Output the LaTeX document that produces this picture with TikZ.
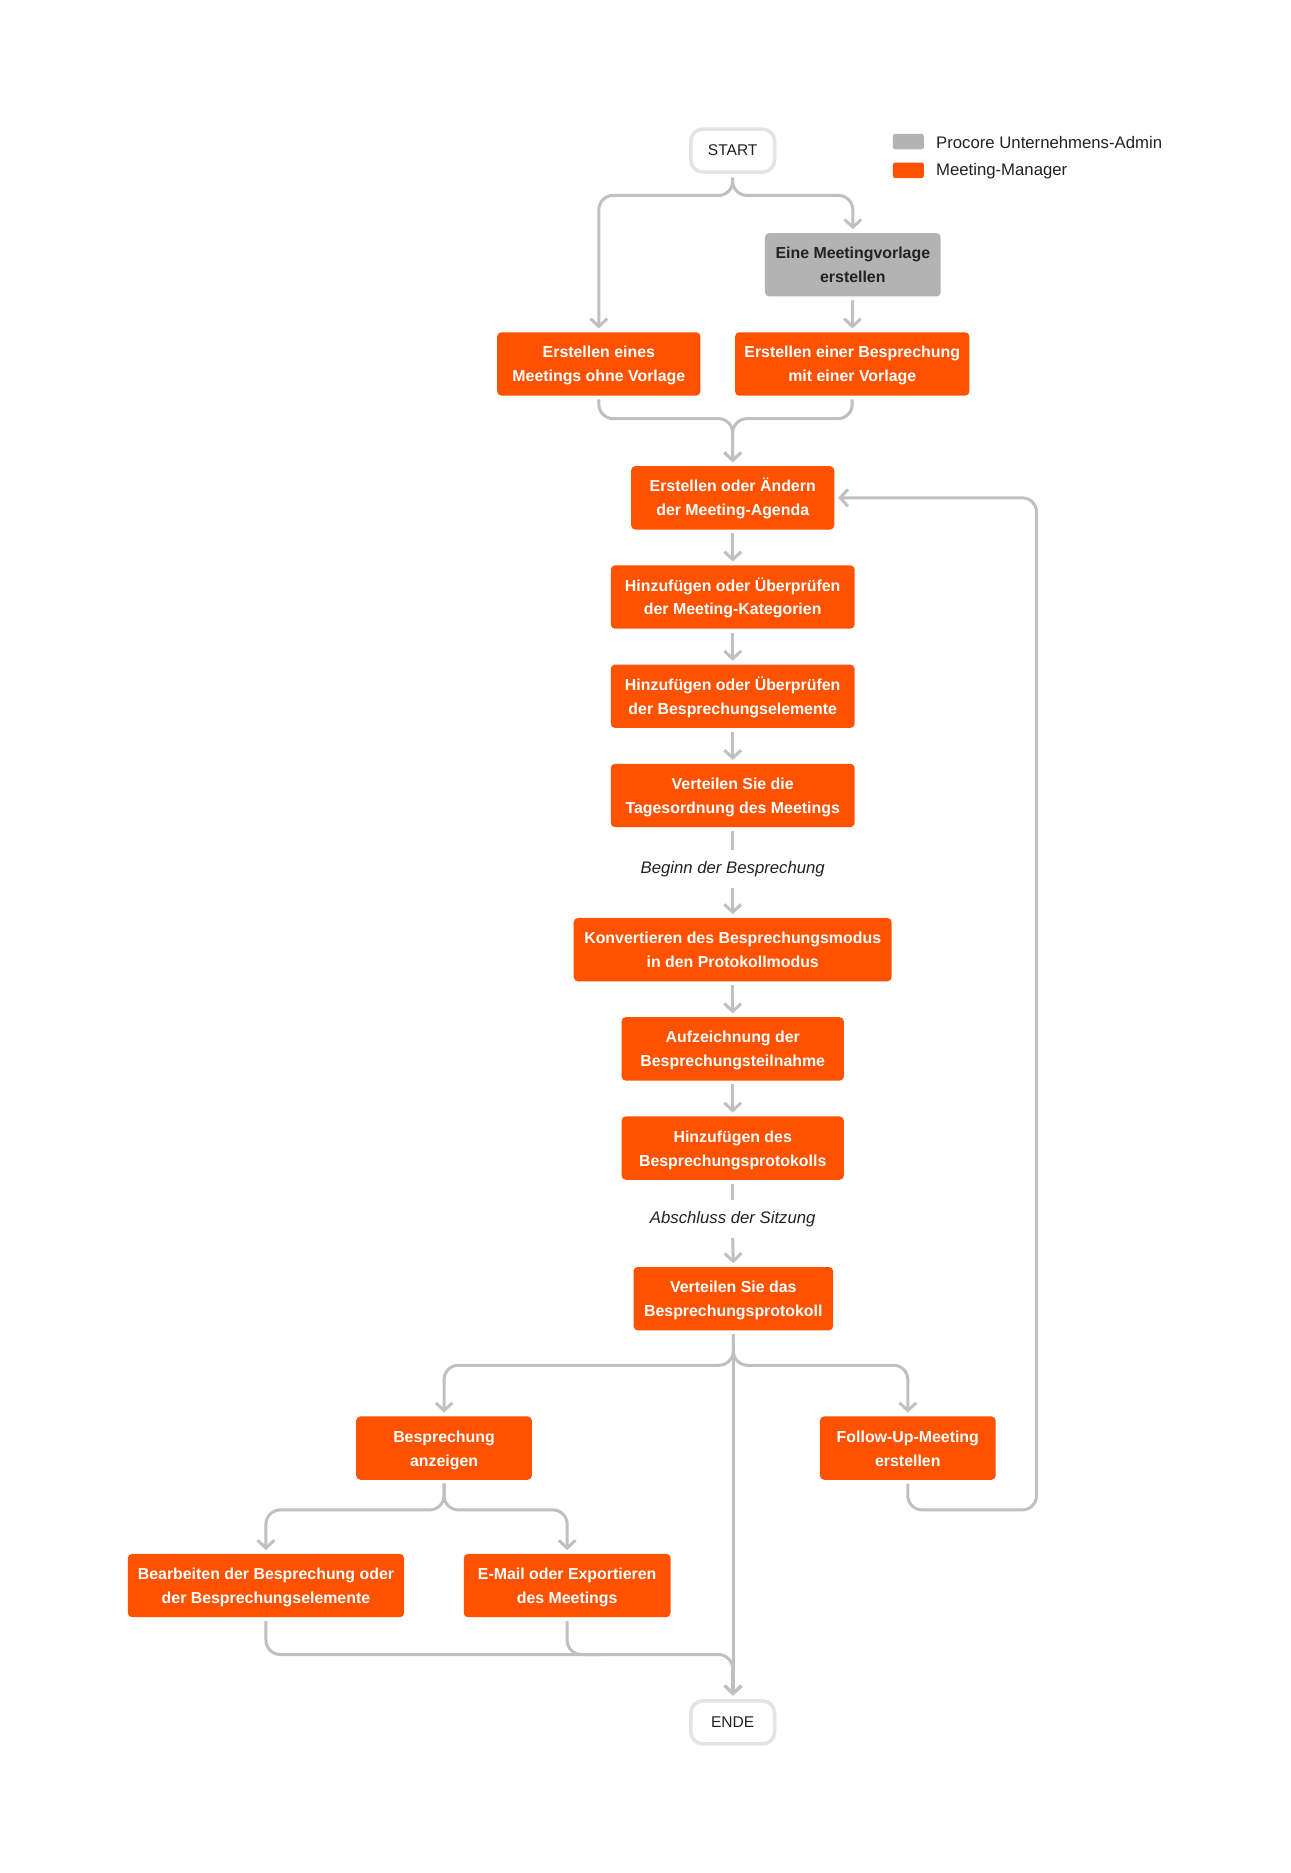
\documentclass[tikz,border=0pt]{standalone}
\usepackage{fontspec}
\setmainfont{Liberation Sans}
\usetikzlibrary{arrows.meta,calc}
\definecolor{pcorange}{HTML}{FF5200}
\definecolor{pcgray}{HTML}{B3B3B3}
\definecolor{pcline}{HTML}{C0C0C0}
\definecolor{pcborder}{HTML}{E4E4E4}
\definecolor{pctext}{HTML}{222222}
\begin{document}
\begin{tikzpicture}[x=1pt,y=-1pt,
  box/.style={fill=pcorange, rounded corners=3.5pt, text=white,
    font=\fontsize{13.3}{20}\selectfont\bfseries, align=center,
    minimum height=53pt, inner sep=0pt, text height=34pt, text depth=4pt},
  graybox/.style={box, fill=pcgray, text=pctext},
  term/.style={draw=pcborder, line width=3pt, fill=white, rounded corners=10pt,
    minimum width=70pt, minimum height=36pt, inner sep=0pt,
    font=\fontsize{13}{15}\selectfont, text=pctext},
  lbl/.style={font=\fontsize{14}{16}\selectfont\itshape, text=pctext, inner xsep=2pt, inner ysep=9pt},
  legsq/.style={rounded corners=2pt, minimum width=26pt, minimum height=13pt, inner sep=0pt},
  legtext/.style={font=\fontsize{14}{16}\selectfont, text=pctext, inner sep=0pt, anchor=west},
  wire/.style={draw=pcline, line width=2.5pt, rounded corners=12pt, shorten <=3pt},
  conn/.style={wire, -{Straight Barb[length=6.5pt,width=14pt]}, shorten >=3pt},
]
\path[fill=white] (0,0) rectangle (1080,1567);

% legend
\node[legsq, fill=pcgray] (lg1) at (760,118.5) {};
\node[legtext] (lt1) at (783,119) {Procore Unternehmens-Admin};
\node[legsq, fill=pcorange] (lg2) at (760,142.5) {};
\node[legtext] (lt2) at (783,143) {Meeting-Manager};

% nodes
\node[term] (start) at (613,126) {START};
\node[graybox, minimum width=147pt] (tmpl) at (713.5,221.5) {Eine Meetingvorlage\\erstellen};
\node[box, minimum width=170pt] (nolay) at (501,304.5) {Erstellen eines\\Meetings ohne Vorlage};
\node[box, minimum width=196pt] (withlay) at (713,304.5) {Erstellen einer Besprechung\\mit einer Vorlage};
\node[box, minimum width=170pt] (agenda) at (613,416.5) {Erstellen oder Ändern\\der Meeting-Agenda};
\node[box, minimum width=204pt] (cat) at (613,499.5) {Hinzufügen oder Überprüfen\\der Meeting-Kategorien};
\node[box, minimum width=204pt] (items) at (613,582.5) {Hinzufügen oder Überprüfen\\der Besprechungselemente};
\node[box, minimum width=204pt] (distag) at (613,665.5) {Verteilen Sie die\\Tagesordnung des Meetings};
\node[lbl] (beginn) at (613,727) {Beginn der Besprechung};
\node[box, minimum width=266pt] (conv) at (613,794.5) {Konvertieren des Besprechungsmodus\\in den Protokollmodus};
\node[box, minimum width=186pt] (attend) at (613,877.5) {Aufzeichnung der\\Besprechungsteilnahme};
\node[box, minimum width=186pt] (minutes) at (613,960.5) {Hinzufügen des\\Besprechungsprotokolls};
\node[lbl] (abschl) at (613,1020) {Abschluss der Sitzung};
\node[box, minimum width=167pt] (distprot) at (613.5,1086.5) {Verteilen Sie das\\Besprechungsprotokoll};
\node[box, minimum width=147pt] (view) at (371.5,1211.5) {Besprechung\\anzeigen};
\node[box, minimum width=147pt] (follow) at (759.5,1211.5) {Follow-Up-Meeting\\erstellen};
\node[box, minimum width=231pt] (edit) at (222.5,1326.5) {Bearbeiten der Besprechung oder\\der Besprechungselemente};
\node[box, minimum width=173pt] (email) at (474.5,1326.5) {E-Mail oder Exportieren\\des Meetings};
\node[term] (ende) at (613,1441) {ENDE};

% connectors
\draw[conn] (start.south) -- ++(0,18) -| (nolay.north);
\draw[conn] (start.south) -- ++(0,18) -| (tmpl.north);
\draw[conn] (tmpl.south) -- (withlay.north);
\draw[conn] (nolay.south) -- ++(0,19) -| (agenda.north);
\draw[conn] (withlay.south) -- ++(0,19) -| (agenda.north);
\draw[conn] (agenda.south) -- (cat.north);
\draw[conn] (cat.south) -- (items.north);
\draw[conn] (items.south) -- (distag.north);
\draw[wire] (distag.south) -- (beginn.north);
\draw[conn, shorten <=0pt] (beginn.south) -- (conv.north);
\draw[conn] (conv.south) -- (attend.north);
\draw[conn] (attend.south) -- (minutes.north);
\draw[wire] (minutes.south) -- (abschl.north);
\draw[conn, shorten <=0pt] (abschl.south) -- (distprot.north);
\draw[conn] (distprot.south) -- ++(0,29) -| (view.north);
\draw[conn] (distprot.south) -- ++(0,29) -| (follow.north);
\draw[conn] (distprot.south) -- (distprot.south |- ende.north);
\draw[conn] (view.south) -- ++(0,25) -| (edit.north);
\draw[conn] (view.south) -- ++(0,25) -| (email.north);
\draw[conn] (edit.south) -- ++(0,31) -| (ende.north);
\draw[wire] (email.south) -- ++(0,31) -- ++(30,0);
\draw[conn] (follow.south) -- ++(0,25) -| ($(agenda.east)+(169,0)$) -- (agenda.east);
\end{tikzpicture}
\end{document}
